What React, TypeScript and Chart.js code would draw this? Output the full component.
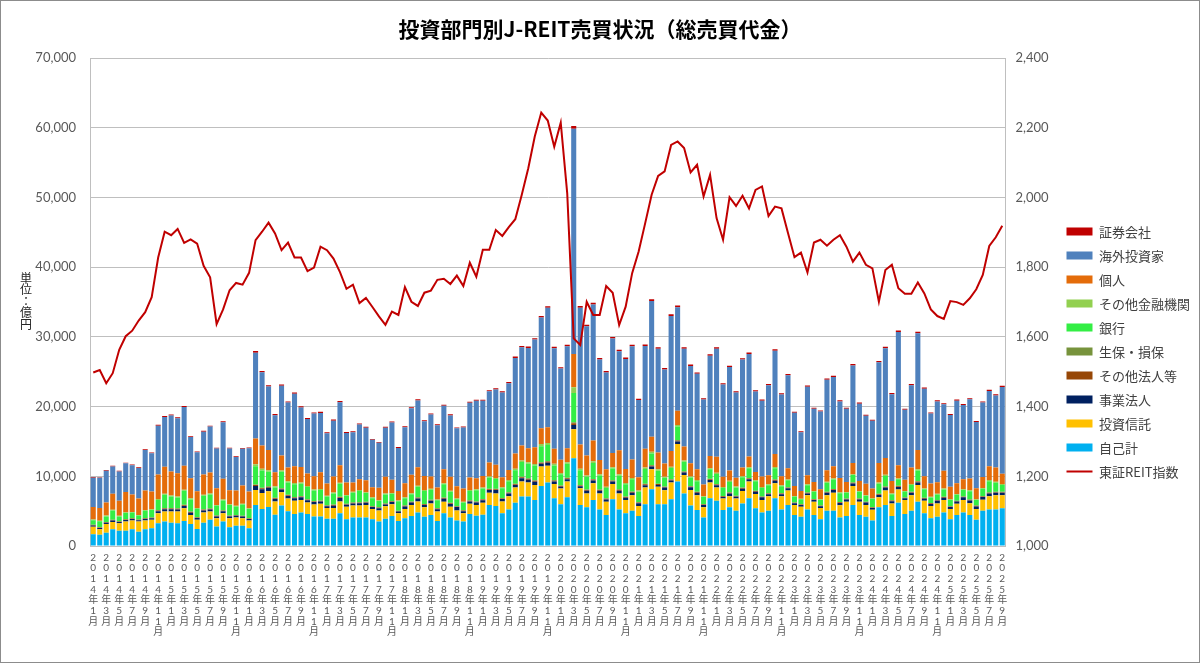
import React, { useEffect, useRef } from "react";
import { Chart, registerables } from "chart.js";

Chart.register(...registerables);

// 2014年1月〜2025年9月 (月次)
const years = [2014, 2015, 2016, 2017, 2018, 2019, 2020, 2021, 2022, 2023, 2024, 2025];
const lastMonth = 9;
const categories: string[] = [];
years.forEach((y) => {
  const end = y === 2025 ? lastMonth : 12;
  for (let m = 1; m <= end; m++) categories.push(`${y}年${m}月`);
});

// 単位：億円
const jikoKei = [
  1700, 1600, 1900, 2400, 2200, 2200, 2400, 2050, 2400, 2550, 3250, 3500,
  3350, 3250, 3600, 3150, 2450, 3350, 3750, 2800, 3500, 2700, 2900, 2900,
  2550, 5900, 5300, 5600, 4500, 5800, 5000, 4600, 4800, 4600, 4250, 4250,
  3900, 3900, 4700, 3850, 4100, 4100, 4100, 3850, 3500, 3900, 4300, 3600,
  4000, 4300, 4800, 4200, 4450, 3600, 4700, 4100, 3650, 3500, 4600, 4350,
  4500, 5900, 5750, 4700, 5250, 6200, 7100, 7100, 6600, 8600, 9100, 6850,
  6000, 7000, 12600, 5900, 5550, 6600, 5250, 4450, 6700, 5250, 4700, 5050,
  4300, 6000, 8150, 6000, 6000, 6700, 9250, 7550, 5800, 5150, 4100, 6850,
  6500, 5150, 5550, 5050, 6100, 6850, 5400, 4800, 5050, 6850, 5250, 5900,
  4450, 4200, 5250, 4450, 3850, 5050, 5050, 4100, 4300, 5900, 4450, 4200,
  3650, 5550, 5900, 4300, 6200, 4600, 5050, 6350, 4700, 4000, 4200, 4800,
  3850, 4450, 4800, 4450, 3750, 5050, 5250, 5250, 5400,
];
const toshiShintaku = [
  1050, 800, 1250, 1050, 1050, 1300, 1250, 1450, 1250, 1200, 1450, 1450,
  1600, 1700, 1800, 1300, 1300, 1450, 1200, 1200, 1200, 1300, 1200, 1100,
  1100, 2150, 2300, 2250, 1900, 1900, 1800, 1900, 1800, 1650, 1700, 1800,
  1550, 1550, 1700, 1800, 1700, 1700, 1800, 1450, 1600, 1800, 1700, 1100,
  1300, 1600, 1600, 1350, 1650, 1350, 1650, 1550, 1450, 1200, 1450, 1550,
  1700, 1750, 1800, 1700, 1900, 2200, 2150, 2000, 2150, 2800, 2400, 2050,
  2250, 2250, 4150, 2400, 2000, 2400, 2300, 1900, 2200, 2300, 1900, 2250,
  1450, 2400, 2850, 2500, 2000, 2400, 5400, 2650, 2250, 2150, 1450, 2250,
  1900, 1650, 1600, 1750, 1800, 2400, 2050, 1800, 2100, 2150, 1900, 2050,
  1450, 1450, 2050, 1900, 1600, 2250, 2600, 1750, 2050, 2700, 1900, 1700,
  1550, 1450, 2050, 1800, 1900, 2000, 2250, 2400, 1800, 1750, 1900, 1800,
  1450, 1600, 1800, 1700, 1550, 1600, 1900, 2050, 1900,
];
const jigyoHojin = [
  200, 200, 180, 200, 190, 220, 210, 200, 230, 220, 300, 320,
  330, 290, 340, 330, 260, 300, 280, 250, 270, 240, 230, 220,
  220, 550, 550, 500, 350, 400, 380, 350, 380, 300, 350, 320,
  250, 330, 500, 260, 300, 320, 300, 280, 330, 260, 300, 250,
  380, 340, 430, 330, 380, 330, 430, 380, 480, 290, 340, 330,
  380, 400, 480, 330, 380, 340, 480, 400, 480, 400, 450, 350,
  260, 330, 620, 260, 380, 400, 380, 330, 340, 380, 330, 340,
  380, 330, 400, 260, 380, 290, 330, 330, 380, 340, 330, 380,
  330, 240, 380, 260, 330, 330, 330, 380, 290, 380, 290, 330,
  240, 240, 240, 240, 240, 330, 380, 330, 330, 380, 330, 330,
  240, 330, 430, 330, 380, 240, 330, 380, 290, 290, 380, 330,
  290, 330, 380, 380, 380, 380, 380, 330, 330,
];
const sonotaHojin = [
  60, 60, 70, 80, 70, 80, 80, 70, 80, 80, 100, 110,
  100, 100, 110, 100, 80, 100, 100, 80, 90, 80, 80, 80,
  80, 150, 140, 130, 100, 120, 110, 110, 110, 100, 100, 100,
  90, 100, 110, 90, 90, 100, 90, 90, 80, 90, 90, 80,
  90, 90, 100, 100, 100, 90, 110, 100, 90, 90, 100, 100,
  100, 110, 110, 100, 110, 120, 130, 130, 130, 140, 140, 130,
  110, 130, 250, 130, 120, 130, 120, 100, 110, 120, 110, 110,
  100, 130, 130, 120, 100, 120, 140, 110, 100, 100, 90, 110,
  110, 90, 110, 90, 110, 110, 100, 90, 90, 110, 90, 90,
  80, 70, 90, 90, 80, 100, 100, 90, 80, 100, 90, 80,
  90, 110, 110, 90, 100, 80, 90, 110, 90, 80, 80, 90,
  80, 80, 90, 90, 80, 90, 100, 90, 90,
];
const seihoSonpo = [
  40, 40, 50, 50, 40, 50, 50, 40, 50, 50, 60, 70,
  60, 60, 70, 60, 50, 60, 60, 50, 60, 50, 50, 50,
  50, 90, 80, 80, 60, 70, 60, 60, 60, 60, 60, 60,
  50, 60, 60, 50, 50, 60, 50, 50, 40, 50, 50, 40,
  50, 50, 60, 60, 50, 50, 60, 60, 50, 50, 60, 60,
  60, 70, 60, 60, 60, 70, 80, 80, 80, 90, 90, 80,
  70, 80, 150, 80, 70, 80, 70, 60, 70, 80, 70, 70,
  60, 80, 80, 70, 60, 70, 80, 60, 60, 60, 50, 60,
  60, 50, 60, 50, 60, 60, 50, 50, 50, 60, 50, 50,
  40, 40, 50, 50, 40, 50, 60, 50, 40, 50, 50, 40,
  50, 60, 60, 50, 50, 40, 50, 60, 50, 40, 40, 50,
  40, 40, 50, 50, 40, 50, 60, 50, 50,
];
const ginko = [
  650, 850, 800, 1300, 700, 900, 800, 550, 1050, 1050, 1450, 1900,
  1650, 1550, 2000, 1750, 1200, 1950, 2000, 1400, 1400, 1500, 1200, 1600,
  1300, 2600, 2450, 2100, 1500, 2350, 1750, 1850, 1800, 1750, 1500, 1500,
  1250, 1600, 1850, 1150, 1400, 1600, 1250, 1150, 900, 1300, 1050, 1350,
  1050, 1050, 1500, 1850, 1450, 1150, 1900, 1600, 1000, 1100, 1350, 1600,
  1500, 1600, 1400, 1400, 1600, 1950, 2100, 2100, 2100, 2300, 2300, 2100,
  1600, 2000, 4200, 2100, 1800, 2300, 1950, 1500, 1700, 1950, 1750, 1750,
  1500, 2100, 1650, 1850, 1250, 1600, 1950, 1400, 1250, 1500, 1000, 1350,
  1450, 1150, 1500, 1200, 1450, 1400, 1350, 1200, 1150, 1600, 1000, 1000,
  800, 700, 1050, 1050, 800, 1300, 1350, 1250, 850, 1050, 950, 850,
  1150, 1450, 1500, 850, 950, 850, 1000, 1550, 1200, 800, 800, 1050,
  900, 850, 900, 1200, 800, 1050, 1600, 1300, 1000,
];
const sonotaKinyu = [
  100, 90, 110, 120, 100, 110, 100, 90, 120, 110, 150, 160,
  150, 140, 160, 150, 120, 140, 150, 120, 140, 130, 110, 120,
  120, 300, 250, 220, 160, 200, 180, 170, 180, 160, 150, 160,
  130, 150, 170, 130, 140, 150, 130, 120, 110, 130, 120, 110,
  120, 130, 150, 160, 140, 120, 160, 150, 110, 120, 140, 150,
  140, 160, 150, 140, 160, 200, 220, 220, 230, 300, 300, 230,
  180, 220, 800, 230, 200, 240, 210, 170, 190, 210, 180, 190,
  160, 220, 250, 200, 150, 190, 220, 170, 150, 160, 120, 160,
  170, 140, 170, 140, 160, 160, 150, 140, 130, 170, 120, 120,
  100, 90, 120, 120, 100, 140, 150, 130, 100, 120, 110, 100,
  130, 160, 170, 110, 120, 100, 110, 170, 130, 100, 100, 120,
  100, 100, 110, 130, 100, 120, 170, 140, 110,
];
const kojin = [
  1800, 1800, 1900, 2300, 2150, 2900, 2500, 2350, 2800, 2550, 3500, 3850,
  3450, 3350, 3450, 2900, 2400, 2900, 3000, 2400, 3000, 2000, 2200, 2600,
  2400, 3700, 3350, 2900, 2000, 2150, 2000, 2400, 2200, 1800, 1900, 2400,
  1750, 2300, 2500, 1800, 1350, 1550, 1700, 1450, 1800, 2400, 1900, 1350,
  2000, 2650, 2650, 2000, 1750, 1700, 2000, 2000, 1750, 1900, 1800, 1600,
  1650, 2000, 1900, 1450, 1450, 2200, 2150, 2000, 2400, 2250, 2250, 2150,
  1900, 2000, 4800, 3450, 2850, 3000, 2050, 2500, 2050, 3450, 2000, 2650,
  1900, 2700, 2150, 2400, 1900, 2250, 2050, 2000, 1900, 1550, 1700, 1750,
  2300, 1450, 1450, 1250, 1250, 1550, 1200, 1500, 1300, 1900, 1300, 1600,
  1450, 1100, 1300, 1300, 1450, 1650, 1750, 2050, 1450, 1600, 1450, 1650,
  1400, 2800, 2400, 1800, 1900, 1600, 2400, 2750, 1750, 1900, 1650, 2550,
  1800, 1550, 1450, 1700, 1600, 1550, 2000, 2050, 1500,
];
const kaigai = [
  4200, 4350, 4550, 3900, 4200, 4100, 4200, 4400, 5800, 5500, 7000, 7150,
  8050, 7900, 8400, 5900, 5600, 6150, 6600, 5700, 8100, 6000, 4800, 5300,
  6200, 12300, 10500, 9100, 8200, 10000, 9300, 10400, 8550, 7800, 9000, 8500,
  7200, 8000, 9050, 7100, 7200, 7850, 7550, 6800, 6450, 7050, 8200, 6200,
  8050, 9550, 9600, 7850, 8900, 8950, 9100, 8800, 8300, 8750, 10700, 11100,
  10800, 10200, 10800, 12150, 12450, 13700, 14100, 14400, 15450, 15900, 17150, 14450,
  13100, 14650, 32300, 19650, 18550, 19500, 14450, 13900, 16400, 14200, 15800, 16250,
  11100, 14750, 19500, 14900, 13500, 19400, 14850, 14050, 13950, 13700, 12200, 14400,
  15500, 13250, 14850, 12250, 15500, 14700, 11550, 10900, 12900, 14800, 11750, 13350,
  10500, 8450, 12700, 10500, 11150, 13000, 12800, 11000, 10500, 14000, 11100, 9750,
  9700, 14450, 15750, 12450, 19100, 10050, 11800, 16750, 12550, 10050, 11600, 9550,
  10300, 11850, 10650, 11350, 9500, 10700, 10800, 10350, 12450,
];
const shokenGaisha = [
  90, 80, 90, 100, 90, 100, 100, 90, 110, 100, 130, 140,
  140, 130, 150, 120, 110, 130, 130, 110, 130, 110, 100, 110,
  110, 230, 200, 190, 160, 180, 170, 170, 160, 150, 150, 160,
  140, 150, 170, 140, 140, 150, 140, 130, 120, 140, 140, 120,
  140, 150, 170, 150, 150, 140, 160, 150, 140, 140, 160, 160,
  160, 170, 170, 170, 170, 200, 200, 200, 210, 230, 240, 210,
  190, 210, 400, 250, 240, 250, 210, 200, 220, 210, 210, 220,
  180, 220, 250, 210, 190, 240, 240, 210, 190, 190, 170, 210,
  210, 180, 200, 170, 200, 210, 170, 160, 180, 210, 170, 190,
  150, 130, 180, 150, 150, 180, 180, 160, 150, 200, 160, 140,
  140, 200, 220, 170, 240, 150, 170, 230, 170, 150, 160, 150,
  140, 160, 160, 160, 140, 160, 170, 160, 170,
];
// 東証REIT指数（右軸）
const reitIndex = [
  1498, 1505, 1467, 1496, 1563, 1602, 1618, 1647, 1671, 1714, 1828, 1902,
  1892, 1910, 1870, 1880, 1868, 1804, 1771, 1637, 1679, 1734, 1755, 1750,
  1784, 1878, 1902, 1928, 1897, 1849, 1871, 1828, 1828, 1789, 1799, 1859,
  1849, 1825, 1786, 1738, 1750, 1697, 1712, 1686, 1659, 1635, 1673, 1663,
  1743, 1701, 1689, 1727, 1733, 1764, 1767, 1752, 1776, 1746, 1813, 1773,
  1850, 1850, 1907, 1890, 1915, 1938, 2008, 2084, 2175, 2244, 2221, 2146,
  2215, 2012, 1596, 1577, 1701, 1663, 1663, 1746, 1727, 1634, 1687, 1783,
  1845, 1926, 2008, 2062, 2075, 2151, 2161, 2142, 2072, 2094, 2003, 2065,
  1941, 1879, 2001, 1976, 2005, 1969, 2022, 2032, 1947, 1974, 1969, 1898,
  1829, 1842, 1785, 1871, 1879, 1862, 1879, 1892, 1859, 1816, 1842, 1807,
  1797, 1701, 1792, 1807, 1740, 1724, 1724, 1756, 1725, 1679, 1660, 1652,
  1703, 1700, 1692, 1711, 1737, 1778, 1861, 1886, 1919,
];

const leftTicks = [0, 10000, 20000, 30000, 40000, 50000, 60000, 70000];
const rightTicks = [1000, 1200, 1400, 1600, 1800, 2000, 2200, 2400];

const barSeries = [
  { label: "自己計", data: jikoKei, color: "#00B0F0" },
  { label: "投資信託", data: toshiShintaku, color: "#FFC000" },
  { label: "事業法人", data: jigyoHojin, color: "#002060" },
  { label: "その他法人等", data: sonotaHojin, color: "#974706" },
  { label: "生保・損保", data: seihoSonpo, color: "#77933C" },
  { label: "銀行", data: ginko, color: "#33EE44" },
  { label: "その他金融機関", data: sonotaKinyu, color: "#92D050" },
  { label: "個人", data: kojin, color: "#E46C0A" },
  { label: "海外投資家", data: kaigai, color: "#4F81BD" },
  { label: "証券会社", data: shokenGaisha, color: "#C00000" },
];
const LINE_INDEX = barSeries.length;

const JP = "'Noto Sans CJK JP', sans-serif";
const NUM = "Lato, 'Noto Sans CJK JP', sans-serif";
const GRID = "#BFBFBF";
const TICK = "#595959";
const axisTitle = "単位：億円";

const fmt = (v: number | string) => Number(v).toLocaleString("en-US");

const framePlugin = {
  id: "frame",
  beforeDraw(chart: Chart) {
    const { ctx, width, height } = chart;
    ctx.save();
    ctx.fillStyle = "#ffffff";
    ctx.fillRect(0, 0, width, height);
    ctx.strokeStyle = "#8C8C8C";
    ctx.lineWidth = 1;
    ctx.strokeRect(0.5, 0.5, width - 1, height - 1);
    ctx.restore();
  },
  afterDraw(chart: Chart) {
    // 縦書きの軸タイトル
    const { ctx } = chart;
    ctx.save();
    ctx.font = `12px ${JP}`;
    ctx.fillStyle = "#262626";
    ctx.textAlign = "center";
    ctx.textBaseline = "middle";
    Array.from(axisTitle).forEach((ch, i) => {
      ctx.fillText(ch, 26, 278 + i * 11.6);
    });
    ctx.restore();
  },
};

export default function App() {
  const chartRef = useRef<HTMLCanvasElement | null>(null);
  const chartInstanceRef = useRef<Chart | null>(null);

  useEffect(() => {
    if (!chartRef.current) return;
    const ctx = chartRef.current.getContext("2d");
    if (!ctx) return;
    if (chartInstanceRef.current) chartInstanceRef.current.destroy();

    const datasets: any[] = barSeries.map((s) => ({
      type: "bar",
      label: s.label,
      data: s.data,
      backgroundColor: s.color,
      borderWidth: 0,
      yAxisID: "y",
      order: 1,
      categoryPercentage: 1,
      barPercentage: 0.78,
    }));
    datasets.push({
      type: "line",
      label: "東証REIT指数",
      data: reitIndex,
      borderColor: "#C00000",
      backgroundColor: "#C00000",
      borderWidth: 2,
      pointRadius: 0,
      tension: 0,
      yAxisID: "y1",
      order: 0,
    });

    chartInstanceRef.current = new Chart(ctx, {
      type: "bar",
      data: { labels: categories, datasets },
      options: {
        responsive: false,
        animation: false,
        layout: { padding: 0 },
        plugins: {
          title: {
            display: true,
            text: "投資部門別J-REIT売買状況（総売買代金）",
            color: "#000000",
            font: { family: JP, size: 21, weight: "bold" },
            padding: { top: 16, bottom: 17 },
          },
          legend: {
            position: "right",
            // 空のタイトルで項目を少し下げる
            title: {
              display: true,
              text: " ",
              font: { size: 1 },
              padding: { top: 39, bottom: 0 },
            },
            labels: {
              usePointStyle: true,
              pointStyleWidth: 26,
              boxHeight: 8,
              padding: 11,
              color: "#404040",
              font: { family: JP, size: 13 },
              generateLabels: (chart: Chart) =>
                Chart.defaults.plugins.legend.labels
                  .generateLabels(chart)
                  .map((it: any) => ({
                    ...it,
                    pointStyle: it.datasetIndex === LINE_INDEX ? "line" : "rect",
                  })),
              sort: (a: any, b: any) => {
                const key = (it: any) => (it.datasetIndex === LINE_INDEX ? 100 : -it.datasetIndex);
                return key(a) - key(b);
              },
            },
          },
          tooltip: { enabled: false },
        },
        scales: {
          x: {
            stacked: true,
            grid: { display: false, drawTicks: false },
            border: { display: true, color: GRID },
            ticks: {
              autoSkip: false,
              maxRotation: 0,
              minRotation: 0,
              padding: 6,
              color: TICK,
              font: { family: NUM, size: 10, lineHeight: 1.07 },
              callback: (_v: any, i: number) => (i % 2 === 0 ? Array.from(categories[i]) : ""),
            },
            afterFit: (s: any) => {
              s.height = 117;
            },
          },
          y: {
            stacked: true,
            min: leftTicks[0],
            max: leftTicks[leftTicks.length - 1],
            afterBuildTicks: (s: any) => {
              s.ticks = leftTicks.map((v) => ({ value: v }));
            },
            grid: { color: GRID, drawTicks: false },
            border: { display: true, color: GRID },
            ticks: {
              padding: 14,
              color: TICK,
              font: { family: NUM, size: 13 },
              callback: (v: any) => fmt(v),
            },
            afterFit: (s: any) => {
              s.width = 90;
            },
          },
          y1: {
            position: "right",
            min: rightTicks[0],
            max: rightTicks[rightTicks.length - 1],
            afterBuildTicks: (s: any) => {
              s.ticks = rightTicks.map((v) => ({ value: v }));
            },
            grid: { drawOnChartArea: false, drawTicks: false },
            border: { display: true, color: GRID },
            ticks: {
              padding: 10,
              color: TICK,
              font: { family: NUM, size: 13 },
              callback: (v: any) => fmt(v),
            },
            afterFit: (s: any) => {
              s.width = 50;
            },
          },
        },
      } as any,
      plugins: [framePlugin],
    });

    return () => {
      if (chartInstanceRef.current) {
        chartInstanceRef.current.destroy();
        chartInstanceRef.current = null;
      }
    };
  }, []);

  return (
    <div style={{ position: "fixed", left: 0, top: 0, width: 1200, height: 663, background: "#fff" }}>
      <canvas ref={chartRef} width={1200} height={663} style={{ width: 1200, height: 663 }} />
    </div>
  );
}
